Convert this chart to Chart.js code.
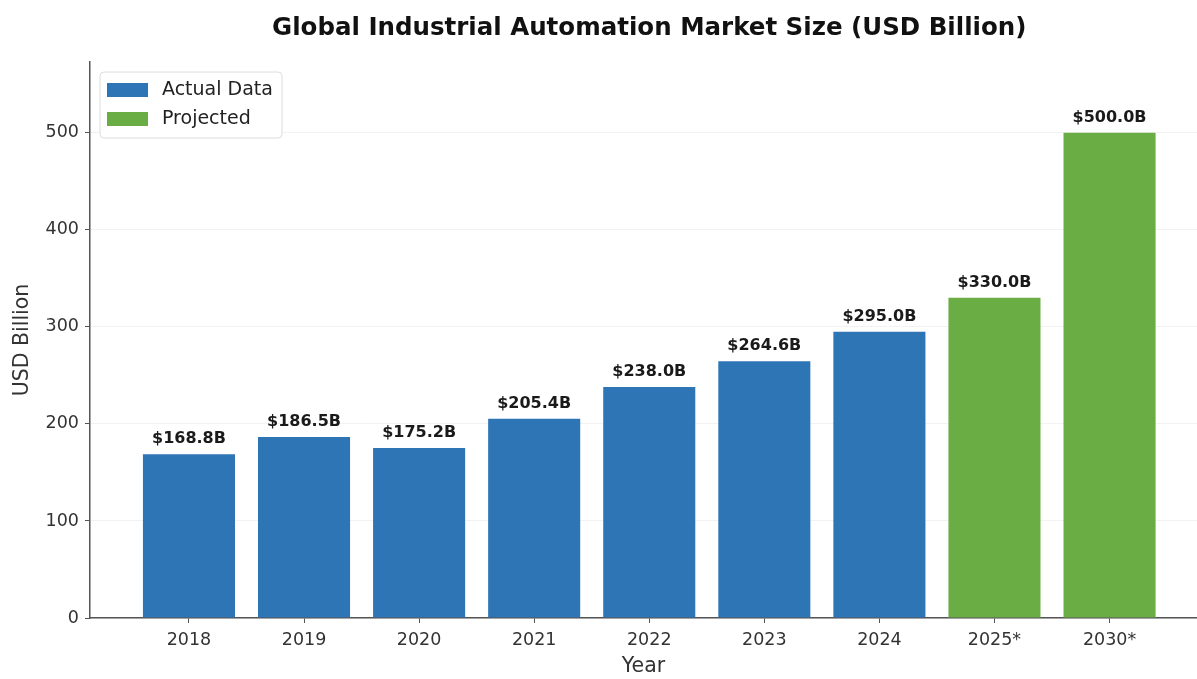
<!DOCTYPE html>
<html>
<head>
<meta charset="utf-8">
<script src="https://cdn.jsdelivr.net/npm/chart.js@4.4.1/dist/chart.umd.min.js"></script>
<style>
  html, body { margin: 0; padding: 0; background: #fff; overflow: hidden; }
  #wrap { width: 1197px; height: 679px; }
</style>
</head>
<body>
<div id="wrap"><canvas id="chart"></canvas></div>
<script>
// Data
const years = ["2018", "2019", "2020", "2021", "2022", "2023", "2024", "2025*", "2030*"];
const actualValues = [168.8, 186.5, 175.2, 205.4, 238.0, 264.6, 295.0];
const projectedValues = [330.0, 500.0];
const yTicks = [0, 100, 200, 300, 400, 500];

const BLUE = "#2E75B6";
const GREEN = "#6AAD45";
const FONT = "'DejaVu Sans', sans-serif";

// build {x, y} points so bars sit on a linear x axis
const actualPoints = actualValues.map((v, i) => ({ x: i, y: v }));
const projectedPoints = projectedValues.map((v, i) => ({ x: actualValues.length + i, y: v }));

// Title, value labels and legend drawn on top
const decorations = {
  id: "decorations",
  afterDraw(chart) {
    const ctx = chart.ctx;
    const xs = chart.scales.x;
    const ys = chart.scales.y;
    ctx.save();

    // title centred over the axes
    ctx.fillStyle = "#111";
    ctx.font = "bold 24.5px " + FONT;
    ctx.textAlign = "center";
    ctx.textBaseline = "middle";
    ctx.fillText("Global Industrial Automation Market Size (USD Billion)", xs.getPixelForValue(4), 29);

    // value labels above each bar
    ctx.font = "bold 16px " + FONT;
    ctx.fillStyle = "#1a1a1a";
    ctx.textBaseline = "bottom";
    chart.data.datasets.forEach(ds => {
      ds.data.forEach(p => {
        ctx.fillText("$" + p.y.toFixed(1) + "B", xs.getPixelForValue(p.x), ys.getPixelForValue(p.y) - 7);
      });
    });

    // legend box in the upper left
    const lx = chart.chartArea.left + 10, ly = chart.chartArea.top + 10;
    ctx.beginPath();
    ctx.roundRect(lx, ly, 182, 66, 4);
    ctx.fillStyle = "rgba(255,255,255,0.85)";
    ctx.fill();
    ctx.strokeStyle = "#dcdcdc";
    ctx.lineWidth = 1;
    ctx.stroke();

    const items = [["Actual Data", BLUE], ["Projected", GREEN]];
    ctx.font = "19px " + FONT;
    ctx.textAlign = "left";
    ctx.textBaseline = "middle";
    items.forEach((it, i) => {
      const cy = ly + 18 + i * 29;
      ctx.fillStyle = it[1];
      ctx.fillRect(lx + 7, cy - 7, 41, 14);
      ctx.fillStyle = "#222";
      ctx.fillText(it[0], lx + 62, cy);
    });

    ctx.restore();
  }
};

new Chart(document.getElementById("chart"), {
  type: "bar",
  data: {
    datasets: [
      { label: "Actual Data", data: actualPoints, backgroundColor: BLUE },
      { label: "Projected", data: projectedPoints, backgroundColor: GREEN }
    ]
  },
  options: {
    responsive: true,
    maintainAspectRatio: false,
    animation: false,
    layout: { padding: { top: 62, left: 0, right: 0, bottom: 0 } },
    datasets: { bar: { grouped: false, barPercentage: 0.8, categoryPercentage: 1.0 } },
    plugins: {
      legend: { display: false },
      title: { display: false },
      tooltip: { enabled: false }
    },
    scales: {
      x: {
        type: "linear",
        min: -0.86,
        max: 8.76,
        offset: false,
        afterBuildTicks: scale => { scale.ticks = years.map((_, i) => ({ value: i })); },
        afterFit: scale => { scale.height = 61; },
        ticks: {
          autoSkip: false,
          maxRotation: 0,
          color: "#333",
          font: { family: FONT, size: 17.5 },
          padding: 7,
          callback: v => years[v]
        },
        grid: { display: true, offset: false, drawOnChartArea: false, drawTicks: true, tickLength: 5, tickColor: "#555" },
        border: { display: true, color: "#555", width: 1.5 },
        title: { display: true, text: "Year", color: "#333", font: { family: FONT, size: 20.5 }, padding: { top: 4, bottom: 0 } }
      },
      y: {
        min: 0,
        max: 573,
        afterBuildTicks: scale => { scale.ticks = yTicks.map(v => ({ value: v })); },
        afterFit: scale => { scale.width = 90; },
        ticks: { color: "#333", font: { family: FONT, size: 17.5 }, padding: 6 },
        grid: { color: "rgba(0,0,0,0.05)", tickColor: "#555", tickLength: 5 },
        border: { display: true, color: "#555", width: 1.5 },
        title: { display: true, text: "USD Billion", color: "#333", font: { family: FONT, size: 20.5 }, padding: { top: 10, bottom: 0 } }
      }
    }
  },
  plugins: [decorations]
});
</script>
</body>
</html>
